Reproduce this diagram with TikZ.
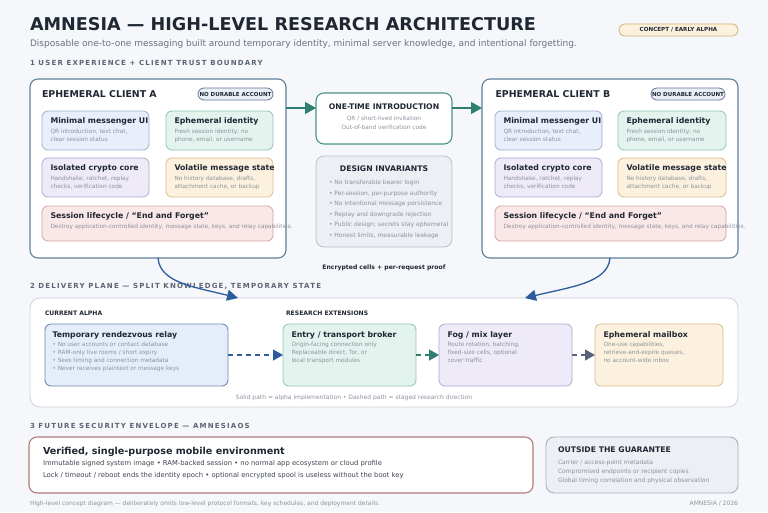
\documentclass[tikz,border=0pt]{standalone}
\usepackage{fontspec}
\setmainfont{DejaVu Sans}
\setsansfont{DejaVu Sans}
\newfontfamily\spaced[LetterSpace=17]{DejaVu Sans}
\usetikzlibrary{arrows.meta,calc}
\definecolor{bg}{HTML}{F5F7FA}
\definecolor{ink}{HTML}{1F2733}
\definecolor{subc}{HTML}{6B7380}
\definecolor{secc}{HTML}{5C6573}
\definecolor{descc}{HTML}{8C939E}
\definecolor{clientS}{HTML}{5F7F98}
\definecolor{blueF}{HTML}{E8EFFA}\definecolor{blueS}{HTML}{9DB2CF}
\definecolor{greenF}{HTML}{E3F4EF}\definecolor{greenS}{HTML}{8EC5B4}
\definecolor{purpleF}{HTML}{EEEAF8}\definecolor{purpleS}{HTML}{B3A7D3}
\definecolor{amberF}{HTML}{FCF1DE}\definecolor{amberS}{HTML}{D8BD8C}
\definecolor{redF}{HTML}{FAE8E8}\definecolor{redS}{HTML}{D7A2A2}
\definecolor{pillF}{HTML}{EAEFF6}\definecolor{pillS}{HTML}{60749A}
\definecolor{conF}{HTML}{FCF1DC}\definecolor{conS}{HTML}{D4B27A}
\definecolor{tealc}{HTML}{2E7F70}
\definecolor{invF}{HTML}{ECEFF4}\definecolor{invS}{HTML}{B7BFCB}
\definecolor{relayF}{HTML}{E5EDF9}\definecolor{relayS}{HTML}{6E8CB4}
\definecolor{bluea}{HTML}{2D5C9C}
\definecolor{graya}{HTML}{5A6478}
\definecolor{planeS}{HTML}{CBD2DC}
\definecolor{verS}{HTML}{B07B7B}
\definecolor{outS}{HTML}{A8B0BD}
\definecolor{darkt}{HTML}{3D4552}
\tikzset{
  box/.style={draw, rounded corners=6pt, inner sep=0pt, outer sep=0pt, anchor=north west},
  tx/.style={anchor=base west, inner sep=0pt, outer sep=0pt},
  txc/.style={anchor=base, inner sep=0pt, outer sep=0pt},
  sectxt/.style={tx, text=secc, font=\spaced\fontsize{7}{8}\selectfont\bfseries},
  ctitle/.style={tx, text=ink, font=\fontsize{7.8}{9}\selectfont\bfseries},
  cdesc/.style={tx, text=descc, font=\fontsize{5.8}{6}\selectfont},
  client/.style={box, rounded corners=8pt, line width=1.1pt, draw=clientS, fill=white, minimum width=256pt, minimum height=179pt},
  pill/.style={box, rounded corners=6pt, line width=0.8pt, draw=pillS, fill=pillF, minimum height=12pt},
  pilltxt/.style={inner sep=0pt, text=ink, font=\fontsize{5.5}{6}\selectfont\bfseries},
  cardB/.style={box, line width=0.8pt, fill=blueF, draw=blueS},
  cardG/.style={box, line width=0.8pt, fill=greenF, draw=greenS},
  cardP/.style={box, line width=0.8pt, fill=purpleF, draw=purpleS},
  cardA/.style={box, line width=0.8pt, fill=amberF, draw=amberS},
  cardR/.style={box, line width=0.8pt, fill=redF, draw=redS},
  tealarrow/.style={draw=tealc, line width=1.3pt, -{Triangle[length=11pt,width=12pt]}},
  bluearrow/.style={draw=bluea, line width=1.3pt, -{Triangle[length=11pt,width=11pt]}},
  dasharrow/.style={line width=1.3pt, dash pattern=on 5pt off 4pt, -{Triangle[length=10pt,width=11pt]}},
}
\begin{document}
\begin{tikzpicture}[x=1pt,y=-1pt]
\useasboundingbox (0,0) rectangle (768,512);
\fill[bg] (0,0) rectangle (768,512);

% header
\node[tx, text=ink, font=\fontsize{17.6}{19}\selectfont\bfseries] (title) at (30,30.5) {AMNESIA — HIGH-LEVEL RESEARCH ARCHITECTURE};
\node[tx, text=subc, font=\fontsize{9}{10}\selectfont] (subtitle) at (30,46) {Disposable one-to-one messaging built around temporary identity, minimal server knowledge, and intentional forgetting.};
\node[box, rounded corners=6pt, line width=0.8pt, draw=conS, fill=conF, minimum width=119pt, minimum height=12pt] (concept) at (619,24) {};
\node[pilltxt, font=\fontsize{5.6}{6}\selectfont\bfseries] (conceptt) at (concept.center) {CONCEPT / EARLY ALPHA};

\node[sectxt] (sec1) at (30,65.5) {1 USER EXPERIENCE + CLIENT TRUST BOUNDARY};

% client A
\node[client] (clientA) at (30,79) {};
\node[tx, text=ink, font=\fontsize{9.4}{10}\selectfont\bfseries] (clientAt) at (42,97.5) {EPHEMERAL CLIENT A};
\node[pill, minimum width=75pt] (pillA) at (198,88) {};
\node[pilltxt] (pillAt) at (pillA.center) {NO DURABLE ACCOUNT};

\node[cardB, minimum width=107pt, minimum height=39pt] (a1) at (42,111) {};
\node[ctitle] (a1t) at (50.5,123.5) {Minimal messenger UI};
\node[cdesc] (a1d1) at (50.5,133.5) {QR introduction, text chat,};
\node[cdesc] (a1d2) at (50.5,141.2) {clear session status};

\node[cardG, minimum width=107pt, minimum height=39pt] (a2) at (166,111) {};
\node[ctitle] (a2t) at (174.5,123.5) {Ephemeral identity};
\node[cdesc] (a2d1) at (174.5,133.5) {Fresh session identity; no};
\node[cdesc] (a2d2) at (174.5,141.2) {phone, email, or username};

\node[cardP, minimum width=107pt, minimum height=39pt] (a3) at (42,158) {};
\node[ctitle] (a3t) at (50.5,170.5) {Isolated crypto core};
\node[cdesc] (a3d1) at (50.5,180.5) {Handshake, ratchet, replay};
\node[cdesc] (a3d2) at (50.5,188.2) {checks, verification code};

\node[cardA, minimum width=107pt, minimum height=39pt] (a4) at (166,158) {};
\node[ctitle] (a4t) at (174.5,170.5) {Volatile message state};
\node[cdesc] (a4d1) at (174.5,180.5) {No history database, drafts,};
\node[cdesc] (a4d2) at (174.5,188.2) {attachment cache, or backup};

\node[cardR, minimum width=231pt, minimum height=35pt] (a5) at (42,206) {};
\node[ctitle] (a5t) at (50.5,218.5) {Session lifecycle / “End and Forget”};
\node[cdesc] (a5d1) at (50.5,228.5) {Destroy application-controlled identity, message state, keys, and relay capabilities.};

% client B
\node[client] (clientB) at (482,79) {};
\node[tx, text=ink, font=\fontsize{9.4}{10}\selectfont\bfseries] (clientBt) at (495.5,97.5) {EPHEMERAL CLIENT B};
\node[pill, minimum width=74pt] (pillB) at (651,88) {};
\node[pilltxt] (pillBt) at (pillB.center) {NO DURABLE ACCOUNT};

\node[cardB, minimum width=107pt, minimum height=39pt] (b1) at (495,111) {};
\node[ctitle] (b1t) at (503.5,123.5) {Minimal messenger UI};
\node[cdesc] (b1d1) at (503.5,133.5) {QR introduction, text chat,};
\node[cdesc] (b1d2) at (503.5,141.2) {clear session status};

\node[cardG, minimum width=108pt, minimum height=39pt] (b2) at (618,111) {};
\node[ctitle] (b2t) at (626.5,123.5) {Ephemeral identity};
\node[cdesc] (b2d1) at (626.5,133.5) {Fresh session identity; no};
\node[cdesc] (b2d2) at (626.5,141.2) {phone, email, or username};

\node[cardP, minimum width=107pt, minimum height=39pt] (b3) at (495,158) {};
\node[ctitle] (b3t) at (503.5,170.5) {Isolated crypto core};
\node[cdesc] (b3d1) at (503.5,180.5) {Handshake, ratchet, replay};
\node[cdesc] (b3d2) at (503.5,188.2) {checks, verification code};

\node[cardA, minimum width=108pt, minimum height=39pt] (b4) at (618,158) {};
\node[ctitle] (b4t) at (626.5,170.5) {Volatile message state};
\node[cdesc] (b4d1) at (626.5,180.5) {No history database, drafts,};
\node[cdesc] (b4d2) at (626.5,188.2) {attachment cache, or backup};

\node[cardR, minimum width=231pt, minimum height=35pt] (b5) at (495,206) {};
\node[ctitle] (b5t) at (503.5,218.5) {Session lifecycle / “End and Forget”};
\node[cdesc] (b5d1) at (503.5,228.5) {Destroy application-controlled identity, message state, keys, and relay capabilities.};

% middle column
\node[box, rounded corners=8pt, line width=1.1pt, draw=tealc!85, fill=white, minimum width=136pt, minimum height=51pt] (intro) at (316,93) {};
\node[txc, text=ink, font=\fontsize{7.7}{8}\selectfont\bfseries] (introt) at (384,109) {ONE-TIME INTRODUCTION};
\node[txc, text=descc, font=\fontsize{5.8}{6}\selectfont] (introd1) at (384,120.5) {QR / short-lived invitation};
\node[txc, text=descc, font=\fontsize{5.8}{6}\selectfont] (introd2) at (384,129.5) {Out-of-band verification code};

\coordinate (inA) at ([yshift=10.5pt]intro.west);
\coordinate (outI) at ([yshift=10.5pt]intro.east);
\draw[tealarrow] (inA -| clientA.east) -- (inA);
\draw[tealarrow] (outI) -- (outI -| clientB.west);

\node[box, rounded corners=8pt, line width=0.8pt, draw=invS, fill=invF, minimum width=136pt, minimum height=91pt] (inv) at (316,156) {};
\node[txc, text=ink, font=\fontsize{7.7}{8}\selectfont\bfseries] (invt) at (384,171) {DESIGN INVARIANTS};
\node[cdesc, font=\fontsize{6}{7}\selectfont] (inv1) at (329,184.5) {• No transferable bearer login};
\node[cdesc, font=\fontsize{6}{7}\selectfont] (inv2) at (329,195.1) {• Per-session, per-purpose authority};
\node[cdesc, font=\fontsize{6}{7}\selectfont] (inv3) at (329,205.7) {• No intentional message persistence};
\node[cdesc, font=\fontsize{6}{7}\selectfont] (inv4) at (329,216.3) {• Replay and downgrade rejection};
\node[cdesc, font=\fontsize{6}{7}\selectfont] (inv5) at (329,226.9) {• Public design; secrets stay ephemeral};
\node[cdesc, font=\fontsize{6}{7}\selectfont] (inv6) at (329,237.5) {• Honest limits, measurable leakage};

\node[txc, text=ink, font=\fontsize{6.1}{7}\selectfont\bfseries] (enc) at (384,269) {Encrypted cells + per-request proof};

% delivery plane
\node[sectxt] (sec2) at (30,288) {2 DELIVERY PLANE — SPLIT KNOWLEDGE, TEMPORARY STATE};
\node[box, rounded corners=10pt, line width=0.8pt, draw=planeS, fill=white, minimum width=708pt, minimum height=109pt] (plane) at (30,298) {};
\node[tx, text=ink, font=\fontsize{6.1}{7}\selectfont\bfseries] (curalpha) at (45,315) {CURRENT ALPHA};
\node[tx, text=ink, font=\fontsize{6.1}{7}\selectfont\bfseries] (resext) at (286,315) {RESEARCH EXTENSIONS};

\node[box, line width=0.9pt, fill=relayF, draw=relayS, minimum width=183pt, minimum height=62pt] (relay) at (45,324) {};
\node[ctitle] (relayt) at (52.5,337) {Temporary rendezvous relay};
\node[cdesc] (relay1) at (52.5,346.5) {• No user accounts or contact database};
\node[cdesc] (relay2) at (52.5,354.5) {• RAM-only live rooms / short expiry};
\node[cdesc] (relay3) at (52.5,362.5) {• Sees timing and connection metadata};
\node[cdesc] (relay4) at (52.5,370.5) {• Never receives plaintext or message keys};

\node[cardG, minimum width=133pt, minimum height=62pt] (entry) at (283,324) {};
\node[ctitle] (entryt) at (291.5,337) {Entry / transport broker};
\node[cdesc] (entry1) at (291.5,346.5) {Origin-facing connection only};
\node[cdesc] (entry2) at (291.5,354.5) {Replaceable direct, Tor, or};
\node[cdesc] (entry3) at (291.5,362.5) {local transport modules};

\node[cardP, minimum width=133pt, minimum height=62pt] (fog) at (439,324) {};
\node[ctitle] (fogt) at (447.5,337) {Fog / mix layer};
\node[cdesc] (fog1) at (447.5,346.5) {Route rotation, batching,};
\node[cdesc] (fog2) at (447.5,354.5) {fixed-size cells, optional};
\node[cdesc] (fog3) at (447.5,362.5) {cover traffic};

\node[cardA, minimum width=128pt, minimum height=62pt] (mail) at (595,324) {};
\node[ctitle] (mailt) at (603.5,337) {Ephemeral mailbox};
\node[cdesc] (mail1) at (603.5,346.5) {One-use capabilities,};
\node[cdesc] (mail2) at (603.5,354.5) {retrieve-and-expire queues,};
\node[cdesc] (mail3) at (603.5,362.5) {no account-wide inbox};

\draw[dasharrow, draw=bluea] (relay.east) -- (entry.west);
\draw[dasharrow, draw=tealc] (entry.east) -- (fog.west);
\draw[dasharrow, draw=graya] (fog.east) -- (mail.west);

\node[txc, text=descc, font=\fontsize{6}{7}\selectfont] (legend) at (354,399) {Solid path = alpha implementation • Dashed path = staged research direction};

% curved arrows
\draw[bluearrow] (clientA.south) .. controls (160,283) and (195,287) .. ([xshift=-146pt]plane.north);
\draw[bluearrow] (clientB.south) .. controls (608,283) and (570,287) .. ([xshift=141pt]plane.north);

% section 3
\node[sectxt] (sec3) at (30,428) {3 FUTURE SECURITY ENVELOPE — AMNESIAOS};
\node[box, rounded corners=8pt, line width=1.1pt, draw=verS, fill=white, minimum width=504pt, minimum height=56pt] (verified) at (29,437) {};
\node[tx, text=ink, font=\fontsize{9.6}{10}\selectfont\bfseries] (vert) at (43,454) {Verified, single-purpose mobile environment};
\node[tx, text=darkt, font=\fontsize{6.8}{7}\selectfont] (ver1) at (43,465.5) {Immutable signed system image • RAM-backed session • no normal app ecosystem or cloud profile};
\node[tx, text=darkt, font=\fontsize{6.8}{7}\selectfont] (ver2) at (43,477.5) {Lock / timeout / reboot ends the identity epoch • optional encrypted spool is useless without the boot key};

\node[box, rounded corners=8pt, line width=0.9pt, draw=outS, fill=invF, minimum width=192pt, minimum height=56pt] (outside) at (546,437) {};
\node[tx, text=ink, font=\fontsize{7.7}{8}\selectfont\bfseries] (outt) at (558,452) {OUTSIDE THE GUARANTEE};
\node[cdesc, font=\fontsize{6}{7}\selectfont] (out1) at (558,464) {Carrier / access-point metadata};
\node[cdesc, font=\fontsize{6}{7}\selectfont] (out2) at (558,473) {Compromised endpoints or recipient copies};
\node[cdesc, font=\fontsize{6}{7}\selectfont] (out3) at (558,482) {Global timing correlation and physical observation};

\node[cdesc, font=\fontsize{6}{7}\selectfont] (footer) at (30,505) {High-level concept diagram — deliberately omits low-level protocol formats, key schedules, and deployment details.};
\node[cdesc, anchor=base east, font=\fontsize{6}{7}\selectfont] (year) at (738,505) {AMNESIA / 2026};
\end{tikzpicture}
\end{document}
